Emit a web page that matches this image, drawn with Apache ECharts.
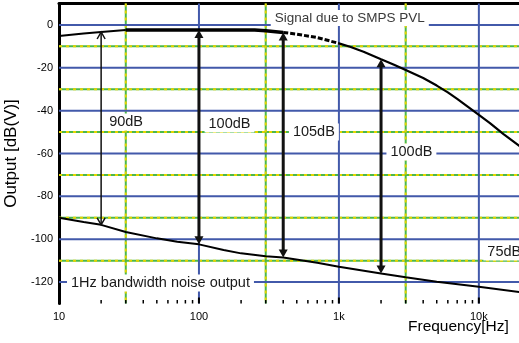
<!DOCTYPE html>
<html>
<head>
<meta charset="utf-8">
<script src="https://cdn.jsdelivr.net/npm/echarts@6/dist/echarts.min.js"></script>
<style>
  html, body { margin: 0; padding: 0; background: #fff; }
  #chart { width: 519px; height: 343px; }
</style>
</head>
<body>
<div id="chart"></div>
<script>
// Output level of the signal path vs. frequency, in dB(V)
const signalFreq = [10, 15, 20, 30, 100, 250, 300, 400, 500, 700, 1000, 1200, 1500, 2000, 2500, 3000, 4000, 5000, 6000, 7000, 8000, 10000, 12000, 15000, 20000];
const signalDb   = [-5.2, -4.0, -3.3, -2.4, -2.4, -2.4, -2.7, -3.5, -4.3, -5.9, -8.6, -10.2, -12.5, -16, -18.7, -21, -24.8, -28.3, -31.5, -34.5, -37.3, -42, -45.8, -51, -57];

// Noise floor in a 1 Hz bandwidth, in dB(V)
const noiseFreq = [10, 15, 20, 30, 50, 70, 100, 150, 200, 300, 400, 700, 1000, 2000, 3000, 5000, 10000, 20000];
const noiseDb   = [-90, -92, -93.3, -96.6, -99.6, -101.2, -102.4, -105, -106.6, -108, -108.5, -111, -112.8, -116, -117.8, -119.8, -122.2, -124.7];

// Dynamic-range arrows: frequency and span between signal and noise
const arrowFreq = [20, 100, 400, 2000];
const arrowSpan = [90, 100, 105, 100];
const arrowText = ['90dB', '100dB', '105dB', '100dB'];

// Other annotations
const noteText = ['Signal due to SMPS PVL', '1Hz bandwidth noise output', '75dB'];

// Axis ticks and grid
const xTickValues = [10, 100, 1000, 10000];
const xTickLabels = ['10', '100', '1k', '10k'];
const majorGridDb = [0, -20, -40, -60, -80, -100, -120];
const minorGridDb = [-10, -30, -50, -70, -90, -110];
const majorGridHz = [100, 1000, 10000];
const minorGridHz = [30, 300, 3000];

const X_MIN = 10, X_MAX = 20000, Y_MIN = -130, Y_MAX = 10;
const FONT = '"Liberation Sans", Arial, sans-serif';

// label anchors: [frequency, dB, pixel offset to the right]
const arrowLabelAnchor = [[20, -45.3, 4], [100, -46.2, 5.6], [400, -50, 5.7], [2000, -59.3, 5.4]];
const noteAnchor = [[300, 3.2, 5], [10, -120.4, 8], [10000, -106, 4.5]];
const noteFont = [13.5, 14.5, 14.5];
const arrowHead = ['open', 'solid', 'solid', 'solid'];

// signal trace drawn in pieces with different line weights
const signalPieces = [
  { from: 10, to: 30, width: 2, type: 'solid' },
  { from: 30, to: 400, width: 3.5, type: 'solid' },
  { from: 400, to: 1000, width: 3, type: [5, 2] },
  { from: 1000, to: 20000, width: 2.2, type: 'solid' }
];

const signalPairs = signalFreq.map((f, i) => [f, signalDb[i]]);
const noisePairs = noiseFreq.map((f, i) => [f, noiseDb[i]]);

const arrowData = arrowFreq.map((f, i) => {
  const top = signalDb[signalFreq.indexOf(f)];
  return [f, top, top - arrowSpan[i], i];
});

// minor x ticks at 2..9 of each decade
const minorTickHz = [];
[10, 100, 1000, 10000].forEach(d => {
  for (let m = 2; m <= 9; m++) if (d * m <= X_MAX) minorTickHz.push(d * m);
});

const BLUE = '#4259aa';
const GREEN = '#4cb84a';
const YELLOW = '#e4d400';

function renderGrid(params, api) {
  const children = [];
  const hLine = (db, color, width, dash) => {
    const a = api.coord([X_MIN, db]), b = api.coord([X_MAX, db]);
    children.push({ type: 'line', shape: { x1: a[0], y1: a[1], x2: b[0], y2: b[1] },
      style: { stroke: color, lineWidth: width, lineDash: dash || null } });
  };
  const vLine = (f, color, width, dash) => {
    const a = api.coord([f, Y_MAX]), b = api.coord([f, Y_MIN]);
    children.push({ type: 'line', shape: { x1: a[0], y1: a[1], x2: b[0], y2: b[1] },
      style: { stroke: color, lineWidth: width, lineDash: dash || null } });
  };
  minorGridDb.forEach(db => { hLine(db, GREEN, 2); hLine(db, YELLOW, 2, [3, 4]); });
  minorGridHz.forEach(f => { vLine(f, GREEN, 2); vLine(f, YELLOW, 2, [3, 4]); });
  majorGridDb.forEach(db => hLine(db, BLUE, 2));
  majorGridHz.forEach(f => vLine(f, BLUE, 2));
  return { type: 'group', children };
}

function renderTicks(params, api) {
  const children = [];
  xTickValues.forEach(f => {
    const p = api.coord([f, Y_MIN]);
    children.push({ type: 'line', shape: { x1: p[0], y1: p[1], x2: p[0], y2: p[1] - 6 },
      style: { stroke: '#000', lineWidth: 2 } });
  });
  minorTickHz.forEach(f => {
    const p = api.coord([f, Y_MIN]);
    children.push({ type: 'line', shape: { x1: p[0], y1: p[1], x2: p[0], y2: p[1] - 3.5 },
      style: { stroke: '#000', lineWidth: 1.5 } });
  });
  return { type: 'group', children };
}

function textBox(x, y, text, size, color) {
  return {
    type: 'text',
    style: {
      x, y, text,
      font: size + 'px ' + FONT,
      fill: color || '#1a1a1a',
      align: 'left', verticalAlign: 'middle',
      backgroundColor: '#fff', padding: [1, 4]
    }
  };
}

function renderLabels(params, api) {
  const children = [];
  arrowText.forEach((t, i) => {
    const a = arrowLabelAnchor[i];
    const p = api.coord([a[0], a[1]]);
    children.push(textBox(p[0] + a[2], p[1], t, 14.5));
  });
  noteText.forEach((t, i) => {
    const a = noteAnchor[i];
    const p = api.coord([a[0], a[1]]);
    children.push(textBox(p[0] + a[2], p[1], t, noteFont[i], i === 0 ? '#3a3a3a' : '#1a1a1a'));
  });
  return { type: 'group', children };
}

function renderArrow(params, api) {
  const f = api.value(0);
  const idx = api.value(3);
  const p1 = api.coord([f, api.value(1)]);
  const p2 = api.coord([f, api.value(2)]);
  const x = p1[0], y1 = p1[1], y2 = p2[1];
  const children = [];
  if (arrowHead[idx] === 'open') {
    children.push({ type: 'line', shape: { x1: x, y1: y1, x2: x, y2: y2 },
      style: { stroke: '#111', lineWidth: 1.5 } });
    children.push({ type: 'polyline', shape: { points: [[x - 4, y1 + 7], [x, y1], [x + 4, y1 + 7]] },
      style: { stroke: '#111', lineWidth: 1.5, fill: null } });
    children.push({ type: 'polyline', shape: { points: [[x - 4, y2 - 7], [x, y2], [x + 4, y2 - 7]] },
      style: { stroke: '#111', lineWidth: 1.5, fill: null } });
  } else {
    children.push({ type: 'line', shape: { x1: x, y1: y1 + 6, x2: x, y2: y2 - 6 },
      style: { stroke: '#111', lineWidth: 3 } });
    children.push({ type: 'polygon', shape: { points: [[x, y1], [x - 4.5, y1 + 8], [x + 4.5, y1 + 8]] },
      style: { fill: '#111' } });
    children.push({ type: 'polygon', shape: { points: [[x, y2], [x - 4.5, y2 - 8], [x + 4.5, y2 - 8]] },
      style: { fill: '#111' } });
  }
  return { type: 'group', children };
}

const signalSeries = signalPieces.map(piece => ({
  type: 'line',
  data: signalPairs.filter(p => p[0] >= piece.from && p[0] <= piece.to),
  showSymbol: false,
  lineStyle: { color: '#000', width: piece.width, type: piece.type },
  z: 4,
  silent: true
}));

const chart = echarts.init(document.getElementById('chart'), null, { renderer: 'canvas' });

chart.setOption({
  animation: false,
  backgroundColor: '#fff',
  grid: { left: 59, top: 3.5, width: 462, height: 300, outerBoundsMode: 'none', containLabel: false },
  xAxis: [
    {
      type: 'log', logBase: 10, min: X_MIN, max: X_MAX,
      axisLine: { show: true, lineStyle: { color: '#000', width: 2 } },
      axisTick: { show: false },
      minorTick: { show: false },
      splitLine: { show: false },
      axisLabel: {
        show: true, margin: 8, color: '#000', fontSize: 11, fontFamily: FONT,
        showMaxLabel: false,
        formatter: v => {
          const i = xTickValues.indexOf(Math.round(v));
          return i >= 0 ? xTickLabels[i] : '';
        }
      }
    },
    {
      type: 'log', logBase: 10, min: X_MIN, max: X_MAX, position: 'top',
      axisLine: { show: true, lineStyle: { color: '#000', width: 3 } },
      axisTick: { show: false }, axisLabel: { show: false }, splitLine: { show: false }
    }
  ],
  yAxis: {
    type: 'value', min: Y_MIN, max: Y_MAX, interval: 10,
    name: 'Output [dB(V)]', nameLocation: 'middle', nameGap: 28, nameRotate: 90,
    nameTextStyle: { fontSize: 17, fontFamily: FONT, color: '#000' },
    axisLine: { show: true, lineStyle: { color: '#000', width: 3 } },
    axisTick: { show: false },
    splitLine: { show: false },
    axisLabel: {
      margin: 6, color: '#000', fontSize: 11, fontFamily: FONT,
      formatter: v => (majorGridDb.indexOf(v) >= 0 ? String(v) : '')
    }
  },
  graphic: [{
    type: 'text', left: 408, top: 319,
    style: { text: 'Frequency[Hz]', font: '15.5px ' + FONT, fill: '#000' }
  }],
  series: [
    { type: 'custom', name: 'grid', coordinateSystem: 'cartesian2d', data: [[X_MIN, 0]],
      renderItem: renderGrid, silent: true, z: 1 },
    { type: 'custom', name: 'ticks', coordinateSystem: 'cartesian2d', data: [[X_MIN, 0]],
      renderItem: renderTicks, silent: true, z: 6 },
    { type: 'custom', name: 'labels', coordinateSystem: 'cartesian2d', data: [[X_MIN, 0]],
      renderItem: renderLabels, silent: true, z: 3 },
    ...signalSeries,
    { type: 'line', name: 'noise', data: noisePairs, showSymbol: false,
      lineStyle: { color: '#000', width: 2 }, z: 4, silent: true },
    { type: 'custom', name: 'arrows', coordinateSystem: 'cartesian2d', data: arrowData,
      encode: { x: 0, y: 1 }, renderItem: renderArrow, silent: true, z: 5 }
  ]
});
</script>
</body>
</html>
